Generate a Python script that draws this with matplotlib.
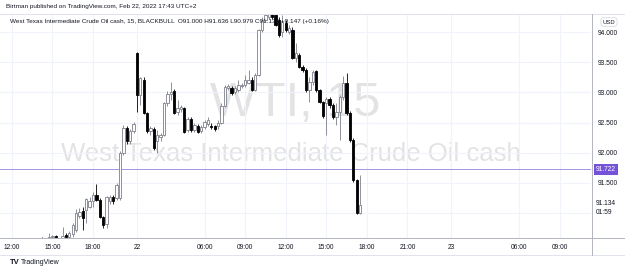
import matplotlib
matplotlib.use('Agg')
import matplotlib.pyplot as plt
from matplotlib.lines import Line2D
import numpy as np

plt.rcParams['font.family'] = ['Liberation Sans', 'DejaVu Sans']

# 15 minute bars, index 9 = first bar drawn (Feb 21 ~14:15)
first_idx = 9
opens = [90.52, 90.50, 90.55, 90.60, 90.62, 90.57,
         90.58, 90.63, 90.60, 90.65, 90.72, 90.95, 91.03, 91.05, 91.10, 91.20,
         91.29, 91.22, 90.93, 90.82, 91.20, 91.27, 91.25, 91.24, 92.00, 92.41,
         92.20, 92.36,
         93.65, 92.96, 93.20, 92.66, 92.36, 92.40, 92.20, 92.26, 92.30, 92.82,
         92.97, 93.02, 92.68, 92.72, 92.74, 92.38, 92.56, 92.38, 92.45, 92.36,
         92.43, 92.48, 92.45, 92.44, 92.45, 92.50, 92.78,
         93.08, 93.08, 93.00, 93.04, 93.10, 93.12, 93.16, 93.21, 93.04, 93.29,
         94.03, 94.20, 94.26, 94.30, 94.28, 94.20, 94.00, 94.15, 94.00,
         94.04, 93.58, 93.62, 93.42, 93.37, 93.04, 93.17, 93.35, 93.04, 92.84,
         92.82, 92.89, 92.79, 92.60, 92.68, 92.92, 93.16, 92.66, 92.21, 91.55,
         91.000]
closes = [90.50, 90.53, 90.60, 90.62, 90.57, 90.55,
          90.62, 90.60, 90.66, 90.80, 91.00, 91.02, 90.92, 91.23, 91.20, 91.30,
          91.22, 90.93, 90.80, 91.27, 91.27, 91.19, 91.47, 92.00, 92.41, 92.19,
          92.36, 92.47,
          92.96, 93.24, 92.66, 92.36, 92.41, 92.08, 92.29, 92.29, 92.82, 92.98,
          93.01, 92.66, 92.74, 92.76, 92.34, 92.56, 92.38, 92.46, 92.35, 92.43,
          92.51, 92.55, 92.43, 92.40, 92.50, 92.78, 93.09,
          93.11, 92.99, 93.07, 93.12, 93.13, 93.21, 93.21, 93.04, 93.29, 94.04,
          94.20, 94.28, 94.30, 94.26, 94.12, 93.95, 94.17, 94.04, 94.07,
          93.58, 93.66, 93.42, 93.37, 93.04, 93.17, 93.34, 93.04, 92.84, 92.61,
          92.89, 92.79, 92.59, 92.68, 92.92, 93.16, 92.66, 92.21, 91.55, 91.00,
          91.134]
highs = [90.60, 90.56, 90.67, 90.63, 90.63, 90.58,
         90.77, 90.66, 90.70, 90.83, 91.06, 91.08, 91.09, 91.25, 91.26, 91.35,
         91.48, 91.24, 90.95, 91.28, 91.30, 91.30, 91.50, 92.02, 92.46, 92.44,
         92.40, 92.51,
         93.67, 93.26, 93.25, 92.68, 92.45, 92.43, 92.37, 92.33, 92.85, 93.02,
         93.18, 93.05, 92.87, 92.80, 92.76, 92.60, 92.60, 92.50, 92.48, 92.46,
         92.54, 92.60, 92.50, 92.46, 92.55, 92.82, 93.12,
         93.14, 93.11, 93.10, 93.21, 93.16, 93.29, 93.37, 93.25, 93.32, 94.06,
         94.25, 94.32, 94.32, 94.32, 94.32, 94.25, 94.28, 94.20, 94.12,
         94.08, 93.82, 93.65, 93.45, 93.40, 93.26, 93.38, 93.38, 93.06, 92.86,
         92.92, 92.92, 92.82, 92.83, 92.96, 93.27, 93.32, 92.69, 92.24, 91.57,
         91.636]
lows = [90.45, 90.46, 90.50, 90.52, 90.50, 90.48,
        90.55, 90.56, 90.58, 90.60, 90.68, 90.92, 90.72, 90.83, 91.08, 91.10,
        91.19, 90.91, 90.75, 90.75, 91.15, 91.15, 91.21, 91.22, 91.96, 92.15,
        92.15, 92.32,
        92.68, 92.79, 92.64, 92.33, 92.30, 92.04, 92.00, 92.20, 92.28, 92.78,
        92.88, 92.64, 92.62, 92.68, 92.32, 92.34, 92.34, 92.34, 92.32, 92.32,
        92.40, 92.45, 92.40, 92.36, 92.40, 92.48, 92.76,
        93.04, 92.96, 92.97, 93.00, 93.07, 93.09, 93.14, 93.02, 93.02, 93.27,
        94.00, 94.17, 94.22, 94.22, 94.10, 93.92, 93.92, 94.00, 93.97,
        93.55, 93.51, 93.40, 93.34, 93.00, 92.84, 93.12, 93.00, 92.82, 92.58,
        92.29, 92.74, 92.56, 92.46, 92.21, 92.88, 92.62, 92.18, 91.52, 90.98,
        90.979]

price_line = 91.722
last_price = 91.134
countdown = '01:59'

time_ticks = [0, 12, 24, 37, 57, 69, 81, 93, 105, 117, 130, 150, 162]
time_labels = ['12:00', '15:00', '18:00', '22', '06:00', '09:00', '12:00',
               '15:00', '18:00', '21:00', '23', '06:00', '09:00']
price_ticks = [91.0, 91.5, 92.0, 92.5, 93.0, 93.5, 94.0]

W, H = 625, 271
fig = plt.figure(figsize=(W / 100, H / 100), dpi=100)
fig.patch.set_facecolor('white')

ax_left, ax_right, ax_top, ax_bot = 0, 591, 14, 238
ax = fig.add_axes([ax_left / W, 1 - ax_bot / H, (ax_right - ax_left) / W, (ax_bot - ax_top) / H])
ax.set_xlim(-3.5, 171.3)
ax.set_ylim(90.583, 94.304)

# watermark
ax.text(0.50, 0.60, 'WTI, 15', transform=ax.transAxes, ha='center', va='center',
        fontsize=35, color='#e3e3e6', zorder=0)
ax.text(0.492, 0.375, 'West Texas Intermediate Crude Oil cash', transform=ax.transAxes,
        ha='center', va='center', fontsize=18.5, color='#e3e3e6', zorder=0)

# grid
for p in price_ticks:
    ax.axhline(p, color='#f0f3fa', lw=0.8, zorder=0.5)
for t in time_ticks:
    ax.axvline(t, color='#f0f3fa', lw=0.8, zorder=0.5)

# candles
o = np.array(opens); c = np.array(closes); h = np.array(highs); l = np.array(lows)
x = np.arange(first_idx, first_idx + len(o))
up = c >= o
up_col = '#7d808a'
ax.vlines(x[up], l[up], h[up], color=up_col, lw=0.6, zorder=2)
ax.vlines(x[~up], l[~up], h[~up], color='black', lw=0.6, zorder=2)
body_lo = np.minimum(o, c)
body_h = np.maximum(np.abs(c - o), 0.012)
ax.bar(x[up], body_h[up], bottom=body_lo[up], width=0.68, color='white',
       edgecolor=up_col, linewidth=0.6, zorder=3)
ax.bar(x[~up], body_h[~up], bottom=body_lo[~up], width=0.68, color='black',
       edgecolor='black', linewidth=0.6, zorder=3)

# horizontal price line
ax.axhline(price_line, color='#a594dc', lw=0.7, zorder=1.5)

# axes styling
for s in ax.spines.values():
    s.set_visible(False)
ax.set_yticks(price_ticks)
ax.set_yticklabels([''] + ['%.3f' % p for p in price_ticks[1:]])
ax.yaxis.tick_right()
ax.tick_params(axis='y', length=0, pad=5, labelsize=4.8, labelcolor='#131722')
ax.set_xticks(time_ticks)
ax.set_xticklabels(time_labels)
ax.tick_params(axis='x', length=0, pad=4, labelsize=4.8, labelcolor='#131722')

# right-side labels
ax.text(1.0085, price_line, '%.3f' % price_line, transform=ax.get_yaxis_transform(),
        ha='left', va='center', fontsize=4.8, color='white', zorder=5,
        bbox=dict(boxstyle='square,pad=0.3', fc='#7552d9', ec='none'),
        clip_on=False)
ax.text(1.0085, last_price + 0.015, '%.3f' % last_price, transform=ax.get_yaxis_transform(),
        ha='left', va='center', fontsize=4.8, color='#131722', clip_on=False)
ax.text(1.0085, last_price - 0.13, countdown, transform=ax.get_yaxis_transform(),
        ha='left', va='center', fontsize=4.8, color='#131722', clip_on=False)

# frame lines (figure pixels)
def hline(y, x0, x1, col, lw=0.7):
    fig.add_artist(Line2D([x0 / W, x1 / W], [1 - y / H, 1 - y / H], color=col, lw=lw))

def vline(xp, y0, y1, col, lw=0.7):
    fig.add_artist(Line2D([xp / W, xp / W], [1 - y0 / H, 1 - y1 / H], color=col, lw=lw))

hline(13.5, 0, W, '#e0e3eb')
hline(238, 0, W, '#b2b5be')
hline(254.5, 0, W, '#e0e3eb')
vline(591.5, 13.5, 254.5, '#b2b5be')

# headers
fig.text(6 / W, 1 - 6.5 / H, 'Birtman published on TradingView.com, Feb 22, 2022 17:43 UTC+2',
         fontsize=4.6, color='#131722', va='center', ha='left')
fig.text(10 / W, 1 - 21 / H,
         'West Texas Intermediate Crude Oil cash, 15, BLACKBULL  O91.000 H91.636 L90.979 C91.134 +0.147 (+0.16%)',
         fontsize=4.6, color='#131722', va='center', ha='left', zorder=10)
fig.text(609 / W, 1 - 22 / H, 'USD', fontsize=4.2, color='#131722', va='center', ha='center',
         bbox=dict(boxstyle='round,pad=0.3,rounding_size=0.4', fc='white', ec='#d1d4dc', lw=0.5))

# TradingView logo
fig.text(10 / W, 1 - 262 / H, 'TV', fontsize=5.5, fontweight='bold', color='#131722',
         va='center', ha='left')
fig.text(21 / W, 1 - 262 / H, 'TradingView', fontsize=5, color='#131722', va='center', ha='left')

fig.savefig('out.png', dpi=100)
